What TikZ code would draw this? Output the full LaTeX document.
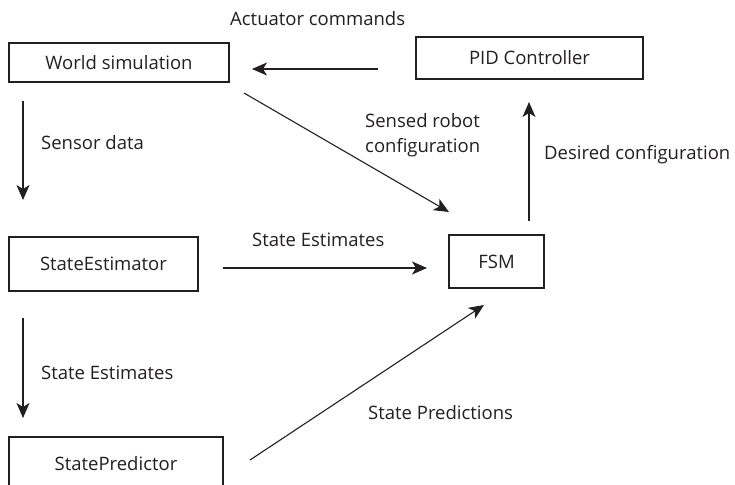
\documentclass[tikz,border=0pt]{standalone}
\usepackage{fontspec}
\setmainfont{Open Sans}
\usetikzlibrary{arrows.meta, positioning, calc}
\definecolor{ink}{HTML}{231F20}

\begin{document}
\begin{tikzpicture}[
  x=1pt, y=-1pt,
  font=\fontsize{18.5}{25}\selectfont,
  every node/.style={align=left, text=ink},
  block/.style={draw=ink, line width=1.2pt, inner sep=0pt, align=center},
  msg/.style={anchor=west, inner sep=0pt},
  flow/.style={draw=ink, line width=1.1pt, -{Stealth[length=15pt, width=13pt, inset=4pt]}},
]
\useasboundingbox (0,0) rectangle (735,484);
\clip (0,0) rectangle (735,484);

% components
\node [block, minimum width=220pt, minimum height=39pt] (world) at (119,62.5) {World simulation};
\node [block, minimum width=227pt, minimum height=42pt] (pid) at (529.5,58) {PID Controller};
\node [block, minimum width=95pt, minimum height=53pt] (fsm) at (496.5,261.5) {FSM};
\node [block, minimum width=189pt, minimum height=54pt] (estimator) at (103.5,264) {StateEstimator};
\node [block, minimum width=214pt, minimum height=53pt] (predictor) at (116,463.5) {StatePredictor};

% connector ends (arrows stop short of the boxes)
\coordinate (act_s) at (378,69);   \coordinate (act_e) at (252,69);
\coordinate (sense_s) at (244,93); \coordinate (sense_e) at (449,212);
\coordinate (sd_s) at (23,101);    \coordinate (sd_e) at (23,200);
\coordinate (des_s) at (529,221);  \coordinate (des_e) at (529,102);
\coordinate (est_s) at (223,268);  \coordinate (est_e) at (427,268);
\coordinate (se_s) at (23,318);    \coordinate (se_e) at (23,418);
\coordinate (pred_s) at (250,460); \coordinate (pred_e) at (484,305);

\draw [flow] (act_s) -- (act_e);
\draw [flow] (sense_s) -- (sense_e);
\draw [flow] (sd_s) -- (sd_e);
\draw [flow] (des_s) -- (des_e);
\draw [flow] (est_s) -- (est_e);
\draw [flow] (se_s) -- (se_e);
\draw [flow] (pred_s) -- (pred_e);

% labels
\node [msg] (act_lbl) at (230,19) {Actuator commands};
\node [msg] (sense_lbl) at (365,135.5) {Sensed robot\\configuration};
\node [msg] (sd_lbl) at (41,143) {Sensor data};
\node [msg] (des_lbl) at (544,155) {Desired configuration};
\node [msg] (est_lbl) at (252,240) {State Estimates};
\node [msg] (se_lbl) at (41,373) {State Estimates};
\node [msg] (pred_lbl) at (368,413) {State Predictions};

\end{tikzpicture}
\end{document}
